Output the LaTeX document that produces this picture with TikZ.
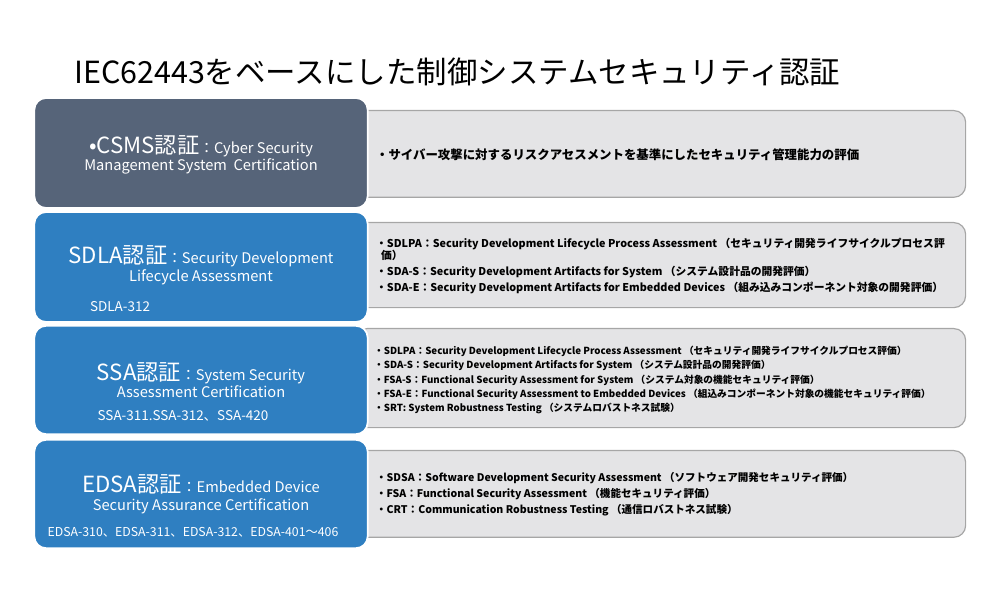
\documentclass[tikz,border=0pt]{standalone}
\usepackage{fontspec}
\setmainfont{Noto Sans CJK JP}
\usetikzlibrary{positioning}
\definecolor{slate}{HTML}{566479}
\definecolor{certblue}{HTML}{2F7FC1}
\definecolor{panelgray}{HTML}{E4E4E6}
\newcommand{\bigtxt}{\fontsize{19}{20}\selectfont}
\tikzset{
    certbox/.style={rectangle, rounded corners=10pt, draw=white, line width=1.5pt,
        minimum width=10cm, minimum height=3.2cm, text=white, align=center},
    panel/.style={rectangle, rounded corners=10pt, draw=gray!70, line width=1pt,
        fill=panelgray, anchor=north west},
    itemtext/.style={anchor=west, align=left},
    leftlabel/.style={text=white, align=center, font=\fontsize{12.5}{15}\selectfont},
}
\begin{document}
\begin{tikzpicture}[x=0.03cm, y=-0.03cm]
        \useasboundingbox (0,0) rectangle (1000,600);
        % Title
        \node (title) [anchor=west, font=\fontsize{26}{28}\selectfont] at (70,72) {IEC62443をベースにした制御システムセキュリティ認証};

        % Right panels
        \node (p1) [panel, minimum width=18.3cm, minimum height=2.6cm] at (355,110) {};
        \node (p2) [panel, minimum width=18.3cm, minimum height=2.55cm] at (355,222) {};
        \node (p3) [panel, minimum width=18.3cm, minimum height=2.97cm] at (355,328) {};
        \node (p4) [panel, minimum width=18.3cm, minimum height=2.6cm] at (355,450) {};

        % Left boxes
        \node (csms) [certbox, fill=slate, minimum height=3.3cm] at (201,153) {};
        \node (sdla) [certbox, fill=certblue, minimum height=3.3cm] at (201,267) {};
        \node (ssa) [certbox, fill=certblue, minimum height=3.25cm] at (201,380) {};
        \node (edsa) [certbox, fill=certblue, minimum height=3.25cm] at (201,494) {};

        % Left texts
        \node (csmst) [leftlabel] at (201,155)
            {{\bigtxt •CSMS認証}：Cyber Security\\Management System\ \ Certification};
        \node (sdlat) [leftlabel] at (201,265)
            {{\bigtxt SDLA認証}：Security Development\\Lifecycle Assessment};
        \node (sdlan) [text=white, font=\fontsize{11.5}{12}\selectfont] at (120,307) {SDLA-312};
        \node (ssat) [leftlabel] at (201,380)
            {{\bigtxt SSA認証}：System Security\\Assessment Certification};
        \node (ssan) [text=white, font=\fontsize{11.5}{12}\selectfont] at (183,416) {SSA-311.SSA-312、SSA-420};
        \node (edsat) [leftlabel] at (201,494)
            {{\bigtxt EDSA認証}：Embedded Device\\Security Assurance Certification};
        \node (edsan) [text=white, font=\fontsize{10.5}{12}\selectfont] at (193,532) {EDSA-310、EDSA-311、EDSA-312、EDSA-401～406};

        % Right texts
        \node (t1) [itemtext, font=\bfseries\fontsize{10.6}{12}\selectfont] at (372,155) {・サイバー攻撃に対するリスクアセスメントを基準にしたセキュリティ管理能力の評価};
        \node (t2) [itemtext, font=\bfseries\fontsize{9.2}{10.5}\selectfont] at (372,266) {%
            ・SDLPA：Security Development Lifecycle Process Assessment （セキュリティ開発ライフサイクルプロセス評\\
            \ \ 価）\\[3pt]
            ・SDA-S：Security Development Artifacts for System （システム設計品の開発評価）\\[3pt]
            ・SDA-E：Security Development Artifacts for Embedded Devices （組み込みコンポーネント対象の開発評価）};
        \node (t3) [itemtext, font=\bfseries\fontsize{8.3}{12.2}\selectfont] at (370,380) {%
            ・SDLPA：Security Development Lifecycle Process Assessment （セキュリティ開発ライフサイクルプロセス評価）\\
            ・SDA-S：Security Development Artifacts for System （システム設計品の開発評価）\\
            ・FSA-S：Functional Security Assessment for System （システム対象の機能セキュリティ評価）\\
            ・FSA-E：Functional Security Assessment to Embedded Devices （組込みコンポーネント対象の機能セキュリティ評価）\\
            ・SRT: System Robustness Testing （システムロバストネス試験）};
        \node (t4) [itemtext, font=\bfseries\fontsize{9}{13.5}\selectfont] at (372,494) {%
            ・SDSA：Software Development Security Assessment （ソフトウェア開発セキュリティ評価）\\
            ・FSA：Functional Security Assessment （機能セキュリティ評価）\\
            ・CRT：Communication Robustness Testing （通信ロバストネス試験）};
    \end{tikzpicture}
\end{document}
